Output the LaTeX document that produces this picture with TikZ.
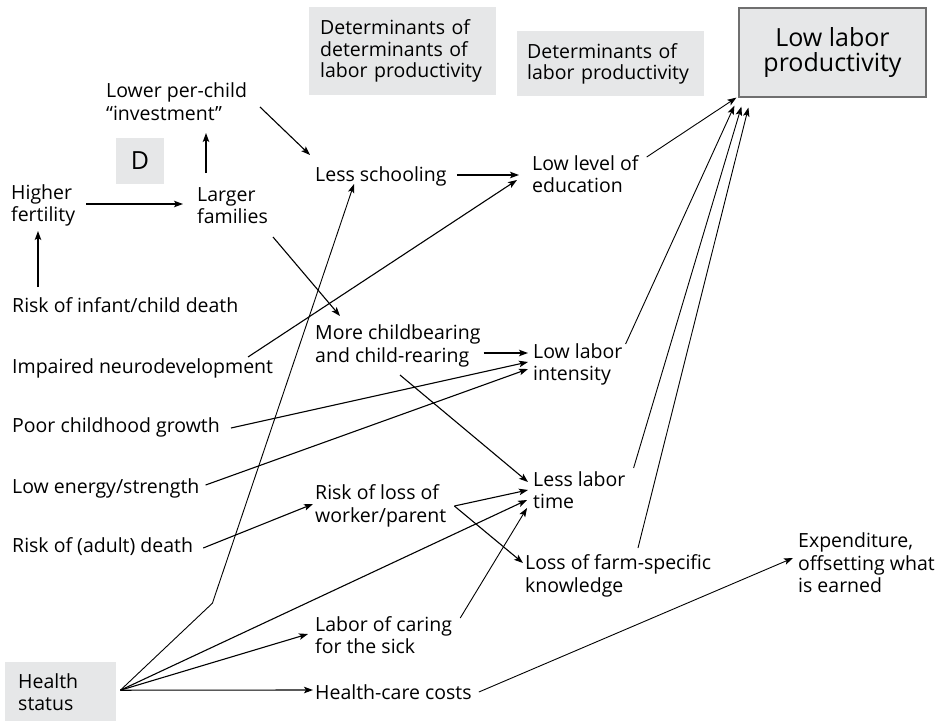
\documentclass[tikz,border=0pt]{standalone}
\usepackage{fontspec}
\setmainfont{Open Sans}
\usetikzlibrary{arrows.meta,calc}
\definecolor{boxgray}{HTML}{E6E7E8}
\definecolor{edgegray}{HTML}{6F6F6F}
\begin{document}
\begin{tikzpicture}[x=1pt,y=-1pt,
  lbl/.style={anchor=west,inner sep=0pt,align=left,font=\fontsize{19.5}{22.5}\selectfont},
  graybox/.style={fill=boxgray,inner ysep=0pt,align=left,font=\fontsize{19.5}{21.5}\selectfont},
  arr/.style={-{Stealth[length=9pt,width=6.5pt,inset=2pt]},line width=1.1pt},
  arrthin/.style={-{Stealth[length=9pt,width=6.5pt,inset=2pt]},line width=0.9pt}]
\useasboundingbox (0,0) rectangle (944,720);

% gray boxes
\node[graybox,anchor=north west,minimum height=88pt,text width=165pt,inner xsep=11pt] (detdet) at (309,7)
  {Determinants of\\determinants of\\labor productivity};
\node[graybox,anchor=north west,minimum height=65pt,text width=167pt,inner xsep=10pt] (det) at (517,31)
  {Determinants of\\labor productivity};
\node[fill=boxgray,draw=edgegray,line width=1.2pt,minimum width=187pt,minimum height=89pt,align=center,
  font=\fontsize{25}{25}\selectfont] (llp) at (832.5,52.5) {Low labor\\productivity};
\node[fill=boxgray,minimum width=48pt,minimum height=46pt,inner sep=0pt,font=\fontsize{25}{26}\selectfont] (dbox) at (140,161) {D};
\node[graybox,anchor=north west,minimum height=60pt,text width=85pt,inner xsep=13pt,font=\fontsize{19.5}{22.5}\selectfont] (health) at (5,662)
  {Health\\status};

% text nodes
\node[lbl] (lpc) at (106,101.5) {Lower per-child\\“investment”};
\node[lbl] (hf) at (11,205.5) {Higher\\fertility};
\node[lbl] (lf) at (197,205.5) {Larger\\families};
\node[lbl] (ls) at (315,176) {Less schooling};
\node[lbl] (lle) at (532,174) {Low level of\\education};
\node[lbl] (rid) at (12,305) {Risk of infant/child death};
\node[lbl] (ind) at (12,368) {Impaired neurodevelopment};
\node[lbl] (pcg) at (12,427) {Poor childhood growth};
\node[lbl] (les) at (12,488) {Low energy/strength};
\node[lbl] (rad) at (12,547) {Risk of (adult) death};
\node[lbl] (mcb) at (315,346) {More childbearing\\and child-rearing};
\node[lbl] (lli) at (533,364.5) {Low labor\\intensity};
\node[lbl] (llt) at (533,490) {Less labor\\time};
\node[lbl] (rlw) at (315,506) {Risk of loss of\\worker/parent};
\node[lbl] (lfk) at (525,576) {Loss of farm-specific\\knowledge};
\node[lbl] (loc) at (315,635) {Labor of caring\\for the sick};
\node[lbl] (hcc) at (315,692) {Health-care costs};
\node[lbl] (exp) at (798,563) {Expenditure,\\offsetting what\\is earned};

\coordinate (hs) at ($(health.east)+(4,-2)$);
\coordinate (rl) at ($(rlw.east)+(8,0)$);

% connectors
\draw[arr] ($(hf.west)+(75,-1.5)$) -- ($(lf.west)+(-14,-1.5)$);
\draw[arr] ($(lf.west)+(9,-32.5)$) -- ($(lpc.west)+(100,31.5)$);
\draw[arr] ($(lpc.west)+(154,5.5)$) -- ($(ls.west)+(-5,-21)$);
\draw[arr] ($(rid.west)+(26,-18)$) -- ($(hf.west)+(27,25.5)$);
\draw[arr] ($(ls.east)+(10,-1)$) -- ($(lle.west)+(-13,1)$);
\draw[arr] ($(ind.west)+(236,-11)$) -- ($(lle.west)+(-15,6)$);
\draw[arrthin] ($(lle.east)+(8,-17)$) -- ($(llp.south west)+(-2,0)$);
\draw[arrthin] ($(lli.east)+(3,-20.5)$) -- ($(llp.south west)+(-4,8)$);
\draw[arrthin] ($(llt.east)+(8,-22)$) -- ($(llp.south west)+(3,9)$);
\draw[arrthin] ($(lfk.west)+(113,-28)$) -- ($(llp.south west)+(10,10)$);
\draw[arr] ($(lf.west)+(76,31.5)$) -- ($(mcb.west)+(25,-30)$);
\draw[arr] ($(mcb.east)+(3,7)$) -- ($(lli.west)+(-5,-11.5)$);
\draw[arr] ($(pcg.east)+(11,1)$) -- ($(lli.west)+(-5,-2.5)$);
\draw[arr] ($(les.east)+(6,-3)$) -- ($(lli.west)+(-5,4.5)$);
\draw[arr] ($(mcb.west)+(85,29)$) -- ($(llt.west)+(-5,-8)$);
\draw[arr] ($(rad.east)+(10,1)$) -- ($(rlw.west)+(-2,-2)$);
\draw[arr] (rl) -- ($(llt.west)+(-5,0)$);
\draw[arr] (rl) -- ($(lfk.west)+(-2,-13)$);
\draw[arrthin] (hs) -- ($(hs)+(92,-87)$) -- ($(ls.west)+(39,8)$);
\draw[arr] (hs) -- ($(llt.west)+(-6,10)$);
\draw[arr] (hs) -- ($(loc.west)+(-7,-1)$);
\draw[arr] (hs) -- ($(hcc.west)+(-2,-2)$);
\draw[arrthin] ($(loc.east)+(8,-17)$) -- ($(llt.west)+(-6,18)$);
\draw[arrthin] ($(hcc.east)+(7,0)$) -- ($(exp.west)+(-5,-5)$);
\end{tikzpicture}
\end{document}
